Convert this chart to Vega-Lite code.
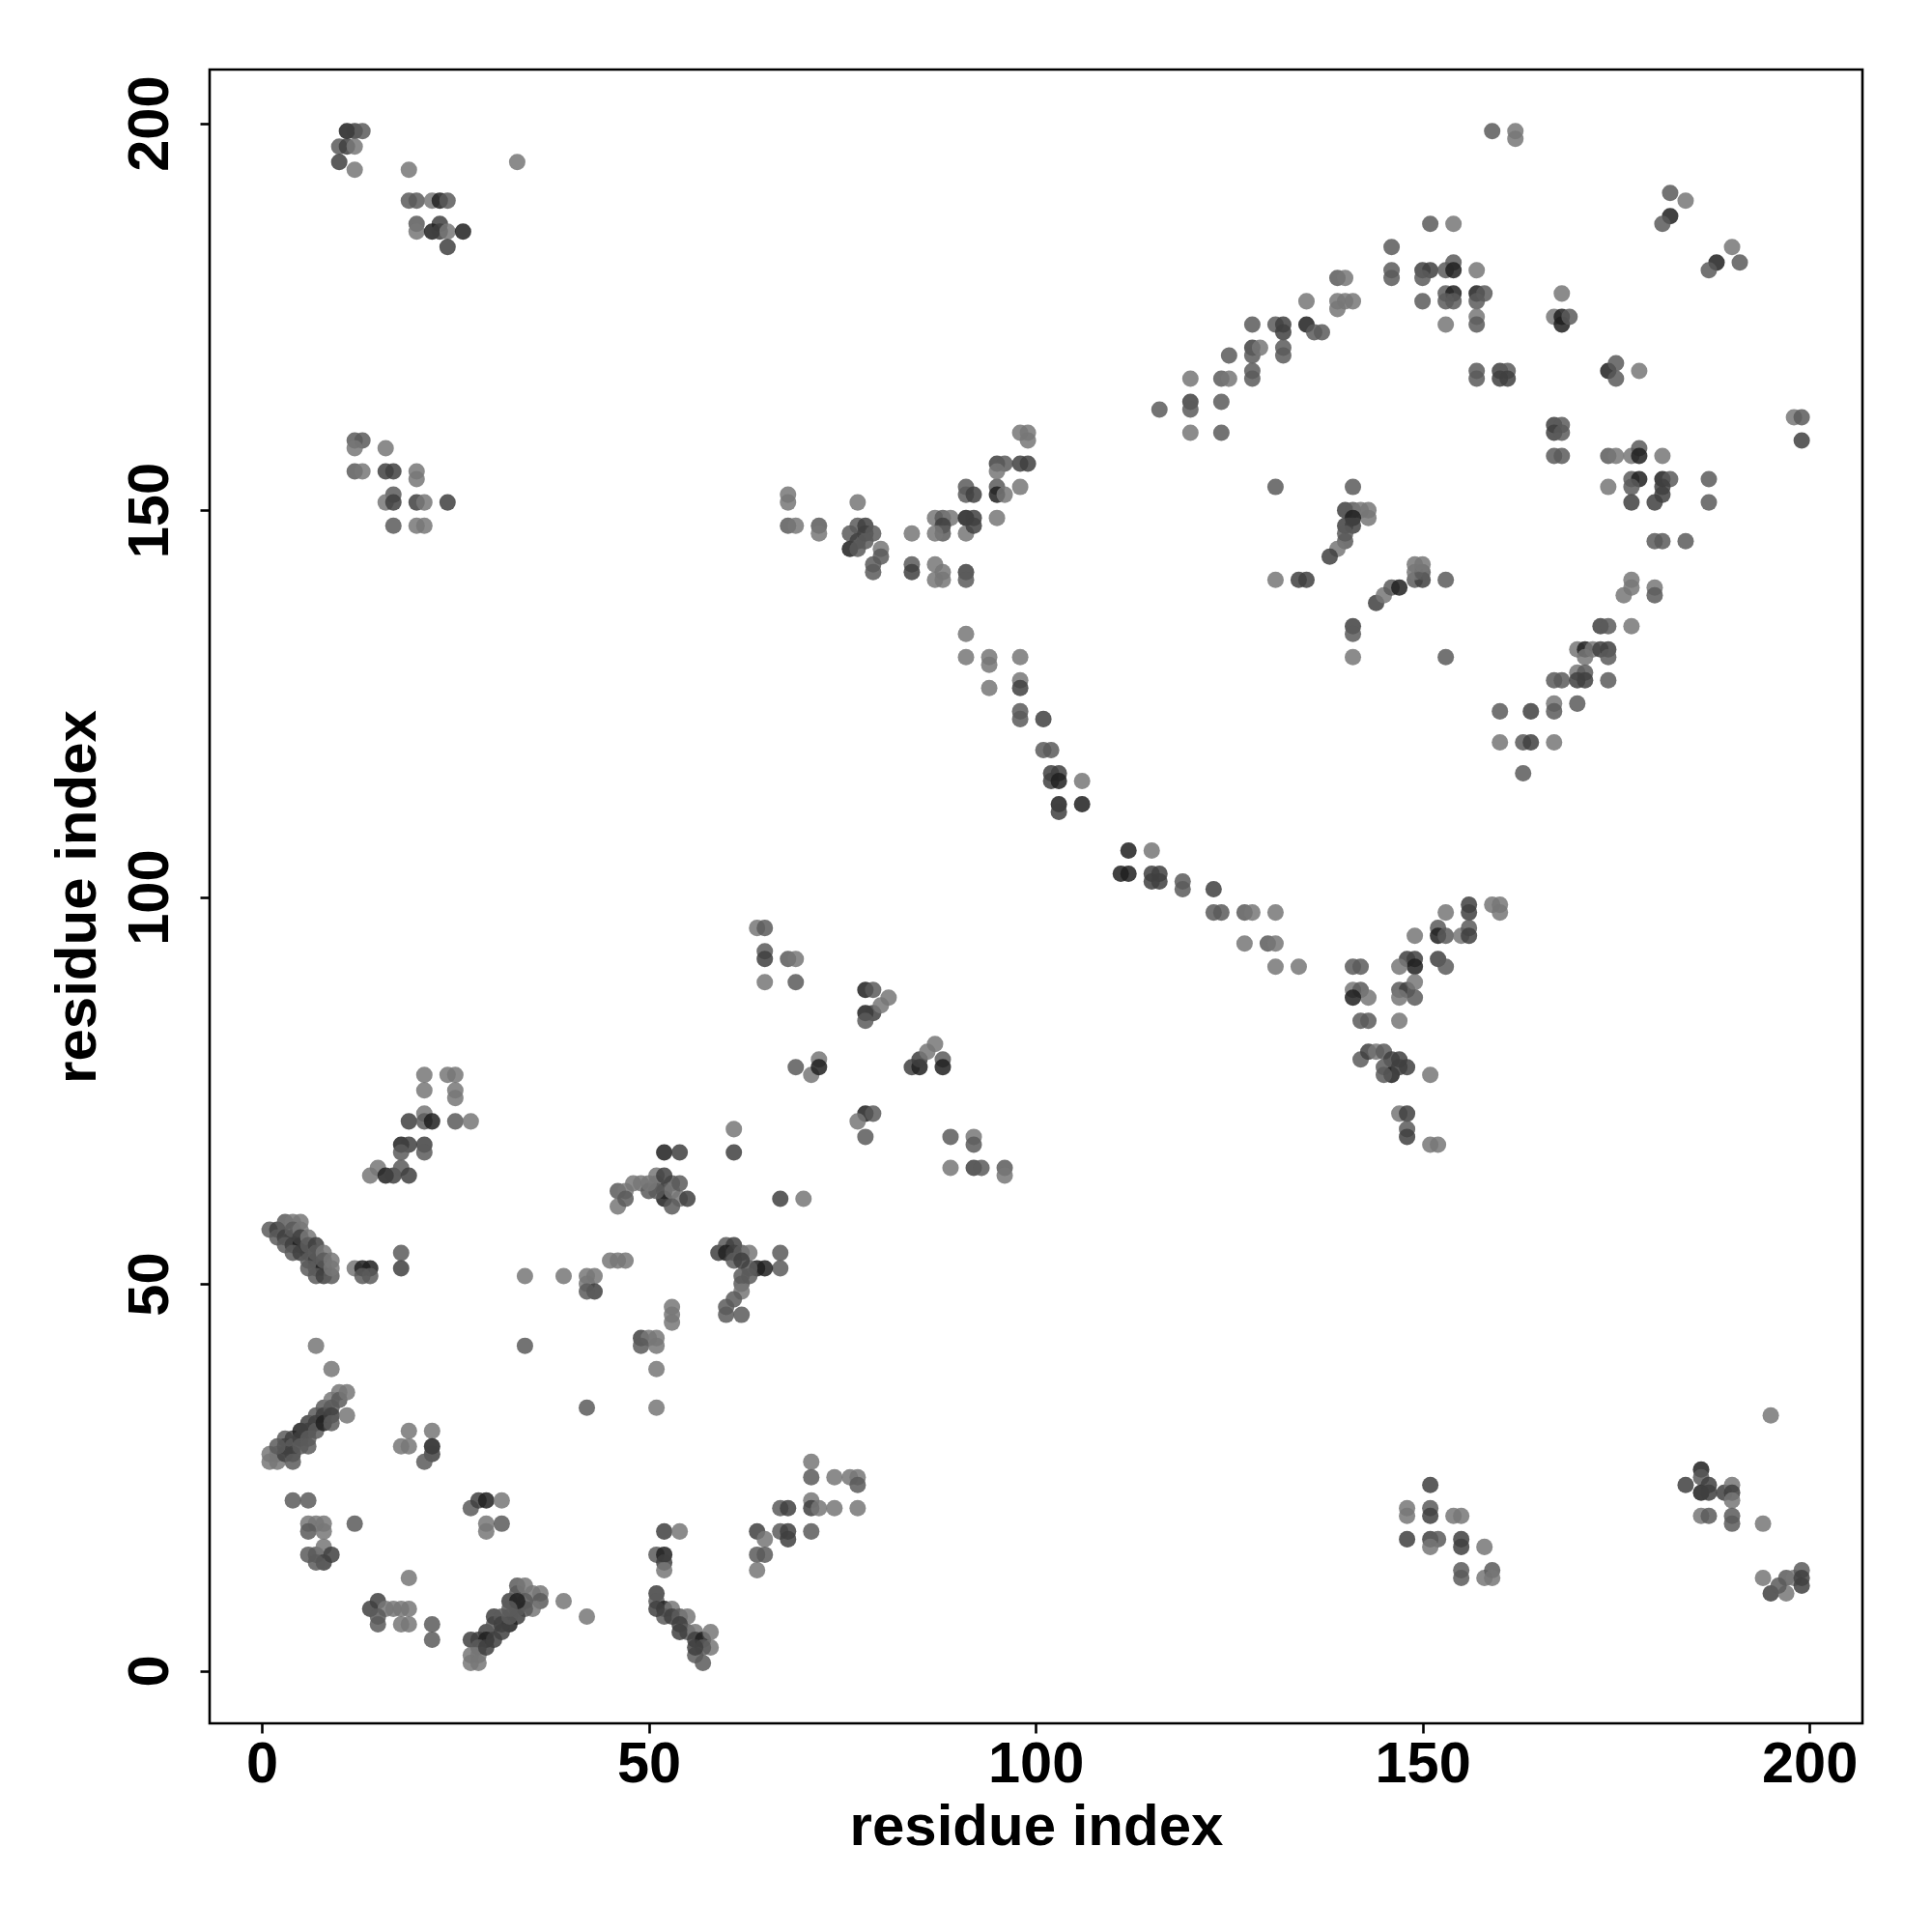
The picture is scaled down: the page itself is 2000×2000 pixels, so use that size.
{
"$schema": "https://vega.github.io/schema/vega-lite/v6.json",
"width": 1711, "height": 1712,
"autosize": {"type": "none"},
"padding": {"left": 217, "top": 72, "right": 72, "bottom": 216},
"background": "white",
"config": {"view": {"stroke": "black", "strokeWidth": 2.6, "fill": "white"}},
"data": {"values": [
{"x":11,"y":199,"p":0.8},{"x":12,"y":199,"p":0.68},{"x":13,"y":199,"p":0.58},{"x":10,"y":197,"p":0.58},{"x":11,"y":197,"p":0.68},{"x":12,"y":197,"p":0.47},{"x":10,"y":195,"p":0.68},{"x":12,"y":194,"p":0.47},
{"x":19,"y":194,"p":0.47},{"x":33,"y":195,"p":0.47},
{"x":19,"y":190,"p":0.58},{"x":20,"y":190,"p":0.58},{"x":22,"y":190,"p":0.47},{"x":23,"y":190,"p":0.8},{"x":24,"y":190,"p":0.58},
{"x":20,"y":187,"p":0.58},{"x":20,"y":186,"p":0.47},{"x":23,"y":187,"p":0.68},{"x":22,"y":186,"p":0.8},{"x":23,"y":186,"p":0.68},{"x":24,"y":186,"p":0.47},{"x":26,"y":186,"p":0.8},{"x":24,"y":184,"p":0.68},
{"x":12,"y":159,"p":0.58},{"x":13,"y":159,"p":0.58},{"x":12,"y":158,"p":0.47},{"x":16,"y":158,"p":0.47},{"x":12,"y":155,"p":0.58},{"x":13,"y":155,"p":0.47},{"x":16,"y":155,"p":0.68},{"x":17,"y":155,"p":0.68},{"x":20,"y":155,"p":0.47},{"x":20,"y":154,"p":0.47},{"x":17,"y":152,"p":0.58},{"x":16,"y":151,"p":0.47},{"x":17,"y":151,"p":0.68},{"x":20,"y":151,"p":0.68},{"x":21,"y":151,"p":0.47},{"x":24,"y":151,"p":0.68},{"x":17,"y":148,"p":0.58},{"x":20,"y":148,"p":0.47},{"x":21,"y":148,"p":0.47},
{"x":68,"y":152,"p":0.47},{"x":68,"y":151,"p":0.47},{"x":68,"y":148,"p":0.58},{"x":69,"y":148,"p":0.47},{"x":72,"y":148,"p":0.58},{"x":72,"y":147,"p":0.47},{"x":77,"y":151,"p":0.47},{"x":76,"y":147,"p":0.58},{"x":76,"y":145,"p":0.8},{"x":77,"y":148,"p":0.58},{"x":78,"y":148,"p":0.68},{"x":77,"y":146,"p":0.68},{"x":78,"y":147,"p":0.68},{"x":79,"y":147,"p":0.58},{"x":78,"y":146,"p":0.58},{"x":80,"y":145,"p":0.47},{"x":80,"y":144,"p":0.58},{"x":79,"y":143,"p":0.58},{"x":79,"y":142,"p":0.58},{"x":77,"y":145,"p":0.58},{"x":84,"y":147,"p":0.47},{"x":84,"y":143,"p":0.58},{"x":84,"y":142,"p":0.68},{"x":87,"y":143,"p":0.47},{"x":88,"y":142,"p":0.47},{"x":87,"y":141,"p":0.47},{"x":88,"y":141,"p":0.47},{"x":91,"y":142,"p":0.68},{"x":91,"y":141,"p":0.58},{"x":87,"y":149,"p":0.47},{"x":88,"y":149,"p":0.58},{"x":89,"y":149,"p":0.47},{"x":88,"y":148,"p":0.68},{"x":88,"y":147,"p":0.58},{"x":87,"y":147,"p":0.47},{"x":91,"y":153,"p":0.58},{"x":91,"y":152,"p":0.58},{"x":92,"y":152,"p":0.68},{"x":91,"y":149,"p":0.8},{"x":92,"y":149,"p":0.68},{"x":91,"y":147,"p":0.47},{"x":92,"y":148,"p":0.68},{"x":95,"y":153,"p":0.58},{"x":95,"y":152,"p":0.8},{"x":96,"y":152,"p":0.47},{"x":95,"y":156,"p":0.68},{"x":96,"y":156,"p":0.58},{"x":98,"y":156,"p":0.68},{"x":99,"y":156,"p":0.68},{"x":95,"y":155,"p":0.47},{"x":98,"y":153,"p":0.47},{"x":95,"y":149,"p":0.47},{"x":98,"y":160,"p":0.47},{"x":99,"y":160,"p":0.47},{"x":99,"y":159,"p":0.47},
{"x":116,"y":163,"p":0.58},{"x":120,"y":167,"p":0.47},{"x":120,"y":164,"p":0.68},{"x":120,"y":163,"p":0.58},{"x":120,"y":160,"p":0.47},{"x":124,"y":164,"p":0.58},{"x":124,"y":160,"p":0.58},{"x":124,"y":167,"p":0.58},{"x":125,"y":167,"p":0.47},{"x":125,"y":170,"p":0.58},{"x":128,"y":174,"p":0.58},{"x":128,"y":171,"p":0.68},{"x":128,"y":170,"p":0.58},{"x":128,"y":168,"p":0.58},{"x":128,"y":167,"p":0.58},{"x":129,"y":171,"p":0.47},{"x":131,"y":174,"p":0.58},{"x":132,"y":174,"p":0.68},{"x":132,"y":173,"p":0.68},{"x":132,"y":171,"p":0.58},{"x":132,"y":170,"p":0.58},{"x":135,"y":174,"p":0.8},{"x":136,"y":173,"p":0.58},{"x":137,"y":173,"p":0.58},{"x":135,"y":177,"p":0.47},{"x":131,"y":153,"p":0.58},{"x":131,"y":141,"p":0.47},{"x":134,"y":141,"p":0.68},{"x":135,"y":141,"p":0.68},
{"x":159,"y":199,"p":0.58},{"x":162,"y":199,"p":0.47},{"x":162,"y":198,"p":0.47},{"x":182,"y":191,"p":0.58},{"x":184,"y":190,"p":0.47},{"x":182,"y":188,"p":0.8},{"x":181,"y":187,"p":0.58},{"x":190,"y":184,"p":0.47},{"x":191,"y":182,"p":0.58},{"x":188,"y":182,"p":0.8},{"x":187,"y":181,"p":0.58},{"x":151,"y":187,"p":0.58},{"x":154,"y":187,"p":0.47},{"x":146,"y":184,"p":0.58},{"x":146,"y":181,"p":0.58},{"x":146,"y":180,"p":0.58},{"x":150,"y":181,"p":0.68},{"x":151,"y":181,"p":0.68},{"x":150,"y":180,"p":0.58},{"x":153,"y":181,"p":0.58},{"x":154,"y":182,"p":0.58},{"x":154,"y":181,"p":0.8},{"x":157,"y":181,"p":0.47},{"x":150,"y":177,"p":0.58},{"x":153,"y":178,"p":0.58},{"x":154,"y":178,"p":0.8},{"x":153,"y":177,"p":0.58},{"x":154,"y":177,"p":0.58},{"x":157,"y":178,"p":0.8},{"x":158,"y":178,"p":0.58},{"x":157,"y":177,"p":0.58},{"x":153,"y":174,"p":0.47},{"x":157,"y":175,"p":0.47},{"x":157,"y":174,"p":0.58},{"x":139,"y":180,"p":0.58},{"x":140,"y":180,"p":0.47},{"x":139,"y":177,"p":0.47},{"x":140,"y":177,"p":0.47},{"x":141,"y":177,"p":0.47},{"x":139,"y":176,"p":0.47},{"x":168,"y":178,"p":0.47},{"x":167,"y":175,"p":0.47},{"x":168,"y":175,"p":0.8},{"x":168,"y":174,"p":0.8},{"x":169,"y":175,"p":0.58},{"x":157,"y":168,"p":0.58},{"x":157,"y":167,"p":0.58},{"x":160,"y":168,"p":0.68},{"x":161,"y":168,"p":0.58},{"x":160,"y":167,"p":0.68},{"x":161,"y":167,"p":0.68},{"x":174,"y":168,"p":0.8},{"x":175,"y":169,"p":0.58},{"x":175,"y":167,"p":0.58},{"x":178,"y":168,"p":0.47},{"x":167,"y":161,"p":0.68},{"x":168,"y":161,"p":0.58},{"x":167,"y":160,"p":0.68},{"x":168,"y":160,"p":0.58},{"x":167,"y":157,"p":0.58},{"x":168,"y":157,"p":0.58},{"x":174,"y":157,"p":0.58},{"x":175,"y":157,"p":0.47},{"x":177,"y":157,"p":0.47},{"x":178,"y":158,"p":0.58},{"x":178,"y":157,"p":0.8},{"x":181,"y":157,"p":0.47},{"x":174,"y":153,"p":0.47},{"x":177,"y":154,"p":0.58},{"x":178,"y":154,"p":0.8},{"x":177,"y":153,"p":0.58},{"x":181,"y":154,"p":0.8},{"x":182,"y":154,"p":0.58},{"x":181,"y":153,"p":0.68},{"x":187,"y":154,"p":0.58},{"x":187,"y":151,"p":0.58},{"x":177,"y":151,"p":0.68},{"x":180,"y":151,"p":0.68},{"x":181,"y":152,"p":0.68},{"x":180,"y":146,"p":0.58},{"x":181,"y":146,"p":0.58},{"x":184,"y":146,"p":0.58},{"x":198,"y":162,"p":0.47},{"x":199,"y":162,"p":0.58},{"x":199,"y":159,"p":0.68},{"x":141,"y":153,"p":0.58},{"x":140,"y":150,"p":0.68},{"x":141,"y":150,"p":0.58},{"x":142,"y":150,"p":0.47},{"x":143,"y":150,"p":0.47},{"x":143,"y":149,"p":0.47},{"x":141,"y":149,"p":0.8},{"x":140,"y":148,"p":0.68},{"x":141,"y":148,"p":0.68},{"x":140,"y":147,"p":0.58},{"x":140,"y":146,"p":0.58},{"x":139,"y":145,"p":0.47},{"x":138,"y":144,"p":0.68},{"x":144,"y":138,"p":0.68},{"x":145,"y":139,"p":0.47},{"x":146,"y":140,"p":0.58},{"x":147,"y":140,"p":0.8},{"x":149,"y":141,"p":0.58},{"x":150,"y":141,"p":0.68},{"x":149,"y":142,"p":0.47},{"x":150,"y":142,"p":0.58},{"x":149,"y":143,"p":0.47},{"x":150,"y":143,"p":0.47},{"x":153,"y":141,"p":0.58},{"x":141,"y":135,"p":0.68},{"x":141,"y":134,"p":0.58},{"x":141,"y":131,"p":0.47},{"x":177,"y":141,"p":0.47},{"x":177,"y":140,"p":0.47},{"x":176,"y":139,"p":0.47},{"x":180,"y":140,"p":0.47},{"x":180,"y":139,"p":0.58},
{"x":153,"y":131,"p":0.58},{"x":173,"y":135,"p":0.68},{"x":174,"y":135,"p":0.58},{"x":177,"y":135,"p":0.47},{"x":170,"y":132,"p":0.47},{"x":171,"y":132,"p":0.8},{"x":172,"y":132,"p":0.47},{"x":173,"y":132,"p":0.68},{"x":174,"y":132,"p":0.68},{"x":174,"y":131,"p":0.58},{"x":171,"y":131,"p":0.47},{"x":167,"y":128,"p":0.58},{"x":168,"y":128,"p":0.58},{"x":170,"y":129,"p":0.47},{"x":171,"y":129,"p":0.58},{"x":170,"y":128,"p":0.68},{"x":171,"y":128,"p":0.68},{"x":174,"y":128,"p":0.58},{"x":160,"y":124,"p":0.58},{"x":164,"y":124,"p":0.68},{"x":167,"y":125,"p":0.47},{"x":167,"y":124,"p":0.58},{"x":170,"y":125,"p":0.58},{"x":160,"y":120,"p":0.47},{"x":163,"y":120,"p":0.58},{"x":164,"y":120,"p":0.68},{"x":167,"y":120,"p":0.47},{"x":163,"y":116,"p":0.58},
{"x":156,"y":99,"p":0.68},{"x":156,"y":98,"p":0.68},{"x":159,"y":99,"p":0.47},{"x":160,"y":99,"p":0.47},{"x":160,"y":98,"p":0.47},{"x":153,"y":98,"p":0.47},{"x":149,"y":95,"p":0.47},{"x":152,"y":96,"p":0.58},{"x":152,"y":95,"p":0.8},{"x":153,"y":95,"p":0.58},{"x":155,"y":95,"p":0.47},{"x":156,"y":96,"p":0.58},{"x":156,"y":95,"p":0.68},{"x":148,"y":92,"p":0.68},{"x":149,"y":92,"p":0.68},{"x":149,"y":91,"p":0.8},{"x":152,"y":92,"p":0.68},{"x":153,"y":91,"p":0.58},{"x":147,"y":91,"p":0.47},{"x":141,"y":91,"p":0.58},{"x":142,"y":91,"p":0.58},{"x":141,"y":88,"p":0.47},{"x":142,"y":88,"p":0.58},{"x":143,"y":87,"p":0.47},{"x":141,"y":87,"p":0.8},{"x":147,"y":88,"p":0.58},{"x":148,"y":88,"p":0.68},{"x":149,"y":89,"p":0.47},{"x":149,"y":87,"p":0.58},{"x":147,"y":87,"p":0.47},{"x":142,"y":84,"p":0.58},{"x":143,"y":84,"p":0.58},{"x":147,"y":84,"p":0.47},{"x":142,"y":79,"p":0.58},{"x":143,"y":80,"p":0.68},{"x":144,"y":80,"p":0.47},{"x":145,"y":80,"p":0.58},{"x":146,"y":79,"p":0.68},{"x":147,"y":79,"p":0.68},{"x":148,"y":78,"p":0.68},{"x":145,"y":78,"p":0.58},{"x":146,"y":77,"p":0.8},{"x":145,"y":77,"p":0.58},{"x":147,"y":78,"p":0.68},{"x":151,"y":77,"p":0.47},{"x":147,"y":72,"p":0.47},{"x":148,"y":72,"p":0.68},{"x":148,"y":70,"p":0.58},{"x":148,"y":69,"p":0.68},{"x":151,"y":68,"p":0.47},{"x":152,"y":68,"p":0.47},
{"x":91,"y":134,"p":0.47},{"x":91,"y":131,"p":0.47},{"x":94,"y":131,"p":0.47},{"x":94,"y":130,"p":0.47},{"x":98,"y":131,"p":0.47},{"x":94,"y":127,"p":0.47},{"x":98,"y":128,"p":0.47},{"x":98,"y":127,"p":0.68},{"x":98,"y":124,"p":0.58},{"x":98,"y":123,"p":0.58},{"x":101,"y":123,"p":0.68},{"x":101,"y":119,"p":0.58},{"x":102,"y":119,"p":0.58},{"x":102,"y":116,"p":0.68},{"x":103,"y":116,"p":0.68},{"x":102,"y":115,"p":0.68},{"x":103,"y":115,"p":0.8},{"x":106,"y":115,"p":0.47},{"x":103,"y":112,"p":0.8},{"x":103,"y":111,"p":0.68},{"x":106,"y":112,"p":0.8},{"x":112,"y":106,"p":0.8},{"x":115,"y":106,"p":0.47},{"x":111,"y":103,"p":0.8},{"x":112,"y":103,"p":0.8},{"x":115,"y":103,"p":0.68},{"x":116,"y":103,"p":0.68},{"x":115,"y":102,"p":0.68},{"x":116,"y":102,"p":0.68},{"x":119,"y":102,"p":0.58},{"x":119,"y":101,"p":0.58},{"x":123,"y":101,"p":0.68},{"x":123,"y":98,"p":0.58},{"x":124,"y":98,"p":0.58},{"x":127,"y":98,"p":0.58},{"x":128,"y":98,"p":0.47},{"x":131,"y":98,"p":0.47},{"x":127,"y":94,"p":0.47},{"x":130,"y":94,"p":0.58},{"x":131,"y":94,"p":0.47},{"x":131,"y":91,"p":0.47},{"x":134,"y":91,"p":0.47},
{"x":64,"y":96,"p":0.47},{"x":65,"y":96,"p":0.58},{"x":65,"y":93,"p":0.58},{"x":65,"y":92,"p":0.68},{"x":65,"y":89,"p":0.47},{"x":68,"y":92,"p":0.58},{"x":69,"y":92,"p":0.47},{"x":69,"y":89,"p":0.58},{"x":78,"y":88,"p":0.8},{"x":79,"y":88,"p":0.58},{"x":78,"y":85,"p":0.8},{"x":79,"y":85,"p":0.68},{"x":78,"y":84,"p":0.58},{"x":80,"y":86,"p":0.47},{"x":81,"y":87,"p":0.47},{"x":69,"y":78,"p":0.58},{"x":71,"y":77,"p":0.47},{"x":72,"y":79,"p":0.47},{"x":72,"y":78,"p":0.8},{"x":84,"y":78,"p":0.68},{"x":85,"y":78,"p":0.8},{"x":85,"y":79,"p":0.68},{"x":86,"y":80,"p":0.47},{"x":87,"y":81,"p":0.47},{"x":88,"y":79,"p":0.58},{"x":88,"y":78,"p":0.8},{"x":78,"y":72,"p":0.8},{"x":79,"y":72,"p":0.58},{"x":77,"y":71,"p":0.47},{"x":78,"y":69,"p":0.58},{"x":89,"y":69,"p":0.58},{"x":92,"y":69,"p":0.47},{"x":92,"y":68,"p":0.58},{"x":89,"y":65,"p":0.47},{"x":92,"y":65,"p":0.68},{"x":93,"y":65,"p":0.58},{"x":96,"y":65,"p":0.58},{"x":96,"y":64,"p":0.47},
{"x":67,"y":61,"p":0.68},{"x":70,"y":61,"p":0.47},{"x":67,"y":54,"p":0.58},{"x":67,"y":52,"p":0.58},{"x":65,"y":52,"p":0.8},{"x":71,"y":27,"p":0.47},{"x":71,"y":25,"p":0.58},{"x":74,"y":25,"p":0.47},{"x":76,"y":25,"p":0.47},{"x":77,"y":25,"p":0.47},{"x":77,"y":24,"p":0.58},{"x":67,"y":21,"p":0.58},{"x":68,"y":21,"p":0.68},{"x":71,"y":22,"p":0.47},{"x":71,"y":21,"p":0.68},{"x":72,"y":21,"p":0.47},{"x":74,"y":21,"p":0.47},{"x":77,"y":21,"p":0.47},{"x":67,"y":18,"p":0.58},{"x":68,"y":18,"p":0.68},{"x":68,"y":17,"p":0.68},{"x":71,"y":18,"p":0.58},{"x":64,"y":18,"p":0.68},{"x":65,"y":17,"p":0.47},{"x":64,"y":15,"p":0.58},{"x":65,"y":15,"p":0.58},{"x":64,"y":13,"p":0.47},
{"x":1,"y":57,"p":0.58},{"x":2,"y":57,"p":0.68},{"x":3,"y":58,"p":0.58},{"x":4,"y":58,"p":0.47},{"x":5,"y":58,"p":0.47},{"x":2,"y":56,"p":0.58},{"x":3,"y":56,"p":0.68},{"x":4,"y":56,"p":0.68},{"x":4,"y":57,"p":0.58},{"x":5,"y":57,"p":0.47},{"x":3,"y":55,"p":0.58},{"x":4,"y":55,"p":0.68},{"x":5,"y":55,"p":0.8},{"x":5,"y":56,"p":0.68},{"x":6,"y":56,"p":0.47},{"x":4,"y":54,"p":0.58},{"x":5,"y":54,"p":0.68},{"x":6,"y":54,"p":0.68},{"x":6,"y":55,"p":0.58},{"x":7,"y":55,"p":0.68},{"x":6,"y":53,"p":0.58},{"x":7,"y":53,"p":0.68},{"x":7,"y":54,"p":0.58},{"x":8,"y":54,"p":0.47},{"x":6,"y":52,"p":0.58},{"x":7,"y":52,"p":0.58},{"x":8,"y":52,"p":0.8},{"x":8,"y":53,"p":0.58},{"x":9,"y":53,"p":0.47},{"x":7,"y":51,"p":0.58},{"x":8,"y":51,"p":0.68},{"x":9,"y":51,"p":0.58},{"x":9,"y":52,"p":0.47},
{"x":12,"y":52,"p":0.47},{"x":13,"y":52,"p":0.8},{"x":14,"y":52,"p":0.8},{"x":13,"y":51,"p":0.58},{"x":14,"y":51,"p":0.58},{"x":18,"y":54,"p":0.58},{"x":18,"y":52,"p":0.68},{"x":34,"y":51,"p":0.47},{"x":39,"y":51,"p":0.47},{"x":42,"y":51,"p":0.47},{"x":43,"y":51,"p":0.47},{"x":42,"y":50,"p":0.47},{"x":43,"y":49,"p":0.68},{"x":42,"y":49,"p":0.58},{"x":45,"y":53,"p":0.47},{"x":46,"y":53,"p":0.47},{"x":47,"y":53,"p":0.47},{"x":53,"y":47,"p":0.47},{"x":53,"y":46,"p":0.47},{"x":53,"y":45,"p":0.47},{"x":49,"y":43,"p":0.68},{"x":50,"y":43,"p":0.47},{"x":51,"y":43,"p":0.47},{"x":49,"y":42,"p":0.58},{"x":51,"y":42,"p":0.47},{"x":51,"y":39,"p":0.47},{"x":34,"y":42,"p":0.58},{"x":42,"y":34,"p":0.58},{"x":51,"y":34,"p":0.47},
{"x":59,"y":54,"p":0.68},{"x":60,"y":55,"p":0.58},{"x":61,"y":55,"p":0.68},{"x":60,"y":54,"p":0.8},{"x":61,"y":54,"p":0.68},{"x":62,"y":54,"p":0.58},{"x":63,"y":54,"p":0.47},{"x":64,"y":52,"p":0.8},{"x":63,"y":52,"p":0.58},{"x":62,"y":51,"p":0.58},{"x":63,"y":51,"p":0.58},{"x":62,"y":50,"p":0.58},{"x":62,"y":49,"p":0.47},{"x":61,"y":48,"p":0.58},{"x":60,"y":47,"p":0.58},{"x":60,"y":46,"p":0.58},{"x":62,"y":46,"p":0.58},{"x":61,"y":53,"p":0.58},{"x":62,"y":53,"p":0.68},
{"x":46,"y":62,"p":0.58},{"x":46,"y":60,"p":0.47},{"x":47,"y":62,"p":0.47},{"x":47,"y":61,"p":0.58},{"x":48,"y":63,"p":0.47},{"x":49,"y":63,"p":0.47},{"x":50,"y":62,"p":0.58},{"x":51,"y":63,"p":0.47},{"x":51,"y":64,"p":0.47},{"x":52,"y":62,"p":0.68},{"x":52,"y":61,"p":0.8},{"x":53,"y":63,"p":0.58},{"x":53,"y":62,"p":0.47},{"x":54,"y":61,"p":0.47},{"x":55,"y":61,"p":0.68},{"x":53,"y":60,"p":0.58},{"x":52,"y":67,"p":0.8},{"x":54,"y":67,"p":0.68},{"x":51,"y":62,"p":0.58},{"x":52,"y":64,"p":0.68},{"x":54,"y":63,"p":0.58},{"x":50,"y":63,"p":0.47},
{"x":21,"y":77,"p":0.47},{"x":21,"y":75,"p":0.47},{"x":24,"y":77,"p":0.47},{"x":25,"y":77,"p":0.47},{"x":25,"y":75,"p":0.47},{"x":25,"y":74,"p":0.47},{"x":19,"y":71,"p":0.68},{"x":21,"y":72,"p":0.47},{"x":21,"y":71,"p":0.58},{"x":22,"y":71,"p":0.8},{"x":25,"y":71,"p":0.58},{"x":27,"y":71,"p":0.47},{"x":18,"y":68,"p":0.8},{"x":19,"y":68,"p":0.68},{"x":18,"y":67,"p":0.58},{"x":21,"y":68,"p":0.68},{"x":21,"y":67,"p":0.58},{"x":14,"y":64,"p":0.47},{"x":15,"y":65,"p":0.47},{"x":16,"y":64,"p":0.8},{"x":17,"y":64,"p":0.68},{"x":18,"y":65,"p":0.58},{"x":19,"y":64,"p":0.68},{"x":61,"y":70,"p":0.47},{"x":61,"y":67,"p":0.68},
{"x":1,"y":28,"p":0.47},{"x":2,"y":28,"p":0.47},{"x":1,"y":27,"p":0.47},{"x":2,"y":27,"p":0.47},{"x":3,"y":30,"p":0.58},{"x":4,"y":30,"p":0.68},{"x":3,"y":29,"p":0.68},{"x":4,"y":29,"p":0.58},{"x":4,"y":28,"p":0.68},{"x":5,"y":31,"p":0.8},{"x":5,"y":30,"p":0.68},{"x":5,"y":29,"p":0.58},{"x":6,"y":32,"p":0.68},{"x":6,"y":31,"p":0.68},{"x":6,"y":30,"p":0.58},{"x":7,"y":33,"p":0.58},{"x":7,"y":32,"p":0.68},{"x":7,"y":31,"p":0.58},{"x":8,"y":34,"p":0.58},{"x":8,"y":33,"p":0.68},{"x":8,"y":32,"p":0.8},{"x":9,"y":35,"p":0.47},{"x":9,"y":34,"p":0.58},{"x":9,"y":33,"p":0.68},{"x":10,"y":36,"p":0.47},{"x":10,"y":35,"p":0.58},{"x":11,"y":36,"p":0.47},{"x":11,"y":33,"p":0.47},{"x":9,"y":32,"p":0.58},{"x":3,"y":28,"p":0.68},{"x":2,"y":29,"p":0.58},{"x":4,"y":27,"p":0.58},{"x":6,"y":29,"p":0.58},{"x":7,"y":42,"p":0.47},{"x":9,"y":39,"p":0.47},
{"x":19,"y":31,"p":0.47},{"x":18,"y":29,"p":0.47},{"x":19,"y":29,"p":0.47},{"x":22,"y":31,"p":0.47},{"x":22,"y":29,"p":0.8},{"x":22,"y":28,"p":0.68},{"x":21,"y":27,"p":0.58},
{"x":27,"y":21,"p":0.58},{"x":28,"y":22,"p":0.68},{"x":29,"y":22,"p":0.8},{"x":31,"y":22,"p":0.47},{"x":29,"y":19,"p":0.47},{"x":29,"y":18,"p":0.47},{"x":31,"y":19,"p":0.58},
{"x":4,"y":22,"p":0.58},{"x":6,"y":22,"p":0.58},{"x":6,"y":19,"p":0.47},{"x":7,"y":19,"p":0.47},{"x":8,"y":19,"p":0.47},{"x":6,"y":18,"p":0.58},{"x":8,"y":18,"p":0.47},{"x":12,"y":19,"p":0.58},{"x":6,"y":15,"p":0.58},{"x":7,"y":15,"p":0.58},{"x":8,"y":16,"p":0.47},{"x":9,"y":15,"p":0.68},{"x":8,"y":14,"p":0.68},{"x":7,"y":14,"p":0.58},
{"x":19,"y":12,"p":0.47},{"x":14,"y":8,"p":0.68},{"x":15,"y":9,"p":0.68},{"x":16,"y":8,"p":0.47},{"x":15,"y":7,"p":0.58},{"x":15,"y":6,"p":0.58},{"x":17,"y":8,"p":0.47},{"x":18,"y":8,"p":0.47},{"x":19,"y":8,"p":0.47},{"x":18,"y":6,"p":0.47},{"x":19,"y":6,"p":0.47},{"x":22,"y":6,"p":0.58},{"x":22,"y":4,"p":0.58},
{"x":27,"y":4,"p":0.68},{"x":28,"y":4,"p":0.68},{"x":29,"y":5,"p":0.68},{"x":30,"y":6,"p":0.58},{"x":30,"y":7,"p":0.68},{"x":31,"y":7,"p":0.58},{"x":32,"y":9,"p":0.68},{"x":33,"y":10,"p":0.58},{"x":33,"y":11,"p":0.58},{"x":34,"y":11,"p":0.47},{"x":35,"y":10,"p":0.47},{"x":36,"y":10,"p":0.47},{"x":36,"y":9,"p":0.58},{"x":35,"y":8,"p":0.47},{"x":34,"y":8,"p":0.58},{"x":33,"y":7,"p":0.68},{"x":32,"y":6,"p":0.8},{"x":31,"y":5,"p":0.68},{"x":29,"y":4,"p":0.8},{"x":28,"y":3,"p":0.58},{"x":28,"y":2,"p":0.47},{"x":27,"y":2,"p":0.47},{"x":27,"y":1,"p":0.47},{"x":28,"y":1,"p":0.47},{"x":29,"y":3,"p":0.68},{"x":30,"y":4,"p":0.68},{"x":31,"y":6,"p":0.68},{"x":32,"y":7,"p":0.58},{"x":33,"y":8,"p":0.58},{"x":34,"y":9,"p":0.58},{"x":33,"y":9,"p":0.8},{"x":32,"y":8,"p":0.58},
{"x":39,"y":9,"p":0.47},{"x":42,"y":7,"p":0.47},
{"x":51,"y":10,"p":0.68},{"x":51,"y":9,"p":0.58},{"x":52,"y":8,"p":0.8},{"x":53,"y":8,"p":0.47},{"x":52,"y":7,"p":0.58},{"x":53,"y":7,"p":0.68},{"x":54,"y":7,"p":0.58},{"x":55,"y":7,"p":0.47},{"x":54,"y":6,"p":0.68},{"x":55,"y":5,"p":0.58},{"x":54,"y":5,"p":0.68},{"x":56,"y":5,"p":0.47},{"x":56,"y":4,"p":0.68},{"x":57,"y":4,"p":0.8},{"x":58,"y":5,"p":0.47},{"x":58,"y":3,"p":0.47},{"x":57,"y":3,"p":0.58},{"x":56,"y":2,"p":0.58},{"x":57,"y":1,"p":0.58},{"x":56,"y":3,"p":0.68},{"x":51,"y":8,"p":0.68},
{"x":52,"y":18,"p":0.68},{"x":54,"y":18,"p":0.47},{"x":51,"y":15,"p":0.58},{"x":52,"y":15,"p":0.8},{"x":52,"y":14,"p":0.68},{"x":52,"y":13,"p":0.47},
{"x":195,"y":33,"p":0.47},{"x":151,"y":24,"p":0.68},{"x":148,"y":21,"p":0.47},{"x":148,"y":20,"p":0.47},{"x":151,"y":21,"p":0.58},{"x":151,"y":20,"p":0.68},{"x":154,"y":20,"p":0.47},{"x":155,"y":20,"p":0.47},{"x":148,"y":17,"p":0.68},{"x":151,"y":17,"p":0.68},{"x":152,"y":17,"p":0.58},{"x":151,"y":16,"p":0.47},{"x":155,"y":17,"p":0.68},{"x":155,"y":16,"p":0.68},{"x":158,"y":16,"p":0.47},{"x":155,"y":13,"p":0.58},{"x":155,"y":12,"p":0.58},{"x":158,"y":12,"p":0.47},{"x":159,"y":13,"p":0.58},{"x":159,"y":12,"p":0.47},
{"x":184,"y":24,"p":0.68},{"x":186,"y":26,"p":0.8},{"x":186,"y":25,"p":0.58},{"x":186,"y":23,"p":0.8},{"x":187,"y":24,"p":0.68},{"x":187,"y":23,"p":0.68},{"x":189,"y":23,"p":0.68},{"x":190,"y":24,"p":0.47},{"x":190,"y":23,"p":0.68},{"x":190,"y":22,"p":0.47},{"x":186,"y":20,"p":0.47},{"x":187,"y":20,"p":0.58},{"x":190,"y":20,"p":0.58},{"x":190,"y":19,"p":0.58},{"x":194,"y":19,"p":0.47},{"x":194,"y":12,"p":0.47},{"x":195,"y":10,"p":0.68},{"x":197,"y":12,"p":0.58},{"x":197,"y":10,"p":0.47},{"x":198,"y":12,"p":0.47},{"x":199,"y":13,"p":0.58},{"x":199,"y":12,"p":0.68},{"x":199,"y":11,"p":0.68},{"x":196,"y":11,"p":0.58}
]},
"mark": {"type": "circle", "size": 290, "opacity": 0.85, "strokeWidth": 0},
"encoding": {
"x": {"field": "x", "type": "quantitative",
 "scale": {"domain": [-6.75, 206.85], "nice": false, "zero": false},
 "axis": {"values": [0, 50, 100, 150, 200], "grid": false, "domain": false, "ticks": true, "tickSize": 10, "tickWidth": 2.6, "tickColor": "black",
  "labelFont": "Liberation Sans", "labelFontWeight": "bold", "labelFontSize": 59.5, "labelColor": "black", "labelPadding": 50, "labelBaseline": "alphabetic", "labelFlush": false, "labelOverlap": false, "labelAlign": "center",
  "title": "residue index", "titleFont": "Liberation Sans", "titleFontWeight": "bold", "titleFontSize": 60, "titleColor": "black", "titleX": 855.5, "titleY": 125, "titleAlign": "center", "titleBaseline": "alphabetic"}},
"y": {"field": "y", "type": "quantitative",
 "scale": {"domain": [-6.8, 206.95], "nice": false, "zero": false},
 "axis": {"values": [0, 50, 100, 150, 200], "grid": false, "domain": false, "ticks": true, "tickSize": 10, "tickWidth": 2.6, "tickColor": "black",
  "labelFont": "Liberation Sans", "labelFontWeight": "bold", "labelFontSize": 59.5, "labelColor": "black", "labelPadding": 34, "labelAngle": 270, "labelAlign": "center", "labelBaseline": "alphabetic", "labelFlush": false, "labelOverlap": false,
  "title": "residue index", "titleFont": "Liberation Sans", "titleFontWeight": "bold", "titleFontSize": 60, "titleColor": "black", "titleX": -119, "titleY": 856, "titleAngle": 270, "titleAlign": "center", "titleBaseline": "alphabetic"}},
"color": {"field": "p", "type": "quantitative", "legend": null,
 "scale": {"domain": [0.47, 0.8], "range": ["#777777", "#202020"], "interpolate": "rgb"}}
}
}
